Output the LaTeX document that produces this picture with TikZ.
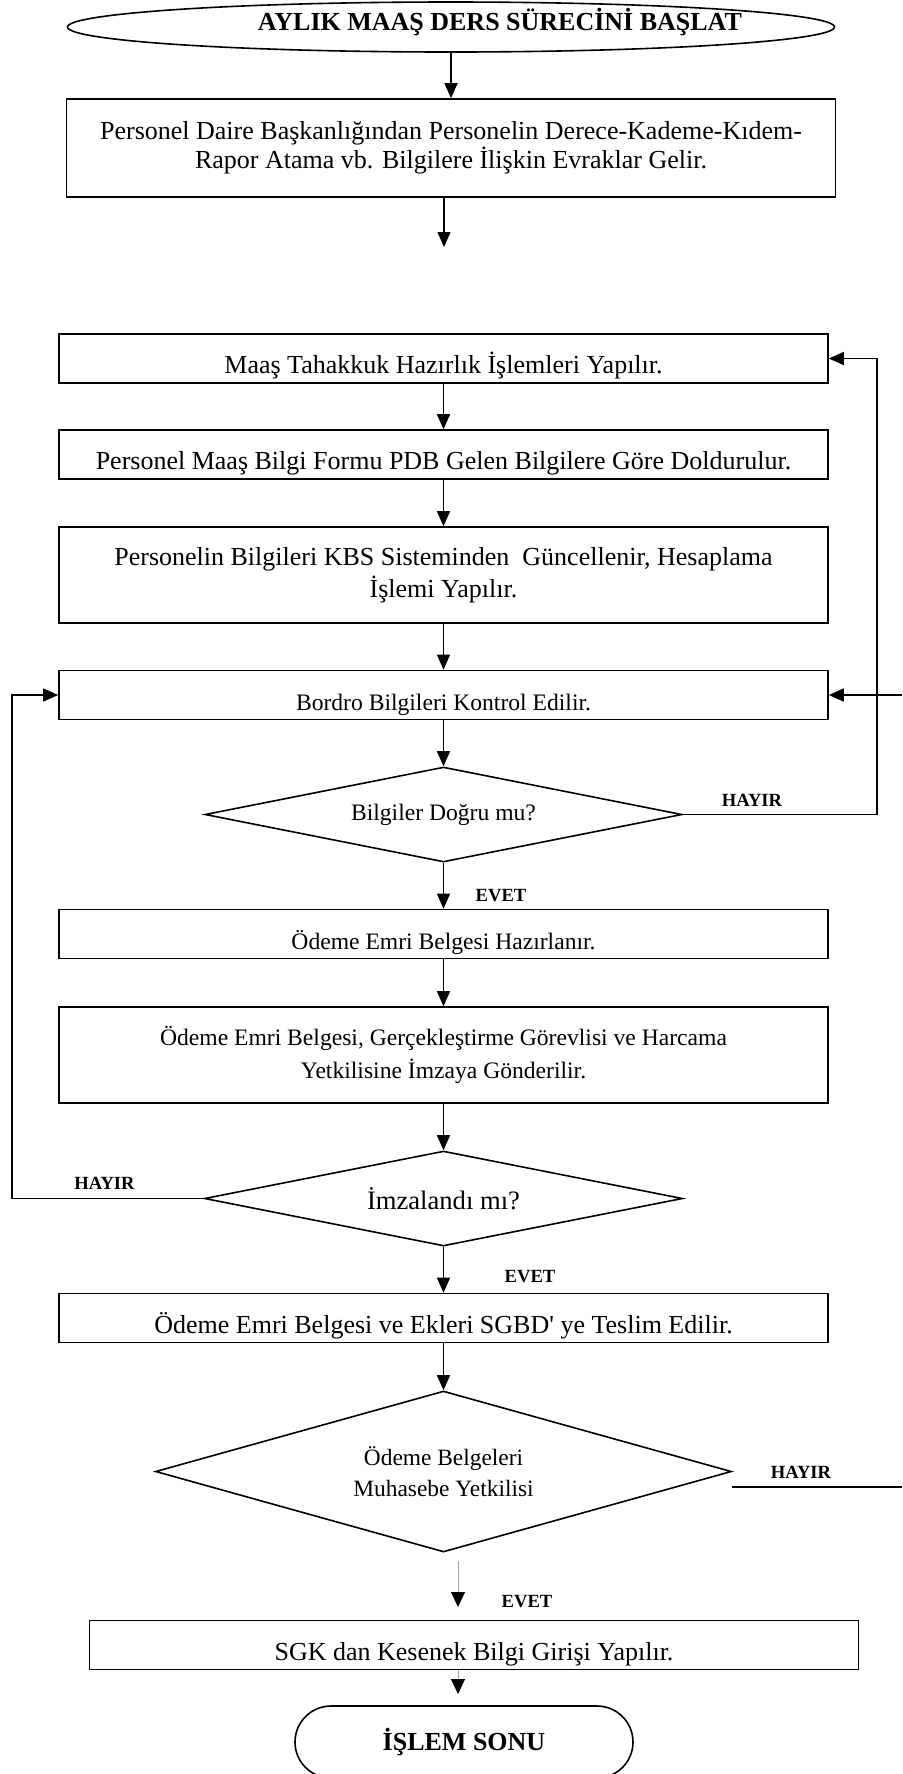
\documentclass[tikz,border=0pt]{standalone}
\usepackage{fontspec}
\setmainfont{Liberation Serif}
\usetikzlibrary{arrows.meta,positioning,calc,shapes.geometric,shapes.misc}

\newcommand{\bigfont}{\fontsize{13}{16}\selectfont}
\newcommand{\midfont}{\fontsize{11.8}{16.5}\selectfont}
\newcommand{\lblfont}{\bfseries\fontsize{9.3}{11}\selectfont}

\tikzset{
  procbox/.style={draw, line width=0.8pt, rectangle, minimum width=384.5pt,
    minimum height=24.5pt, inner sep=0pt, align=center, font=\bigfont},
  onebox/.style={text height=15pt, text depth=0pt},
  decision/.style={draw, line width=0.8pt, shape=diamond, aspect=5,
    inner sep=0pt, align=center},
  startshape/.style={draw, line width=0.8pt, shape=ellipse, inner sep=0pt},
  endshape/.style={draw, line width=0.8pt, shape=rounded rectangle,
    minimum width=169pt, minimum height=36pt, inner sep=0pt,
    font=\bfseries\fontsize{13}{15}\selectfont},
  lbl/.style={font=\lblfont, inner sep=0pt},
  arr/.style={line width=0.7pt, -{Triangle[length=7.5pt,width=6.5pt]}},
  grayarr/.style={draw=gray!70, line width=0.5pt,
    -{Triangle[length=7.5pt,width=7pt,color=black]}},
}

\begin{document}
\begin{tikzpicture}[x=0.5pt,y=-0.5pt]
\useasboundingbox (0,0) rectangle (902,1774);

\node[startshape, minimum width=383.5pt, minimum height=25pt] (start) at (451,27) {};
\node[font=\bfseries\fontsize{13}{15}\selectfont] (starttxt) at (500,22) {AYLIK MAAŞ DERS SÜRECİNİ BAŞLAT};

\node[procbox, minimum height=49pt, font=\fontsize{13}{13.5}\selectfont] (pdb) at (451,148)
  {Personel Daire Başkanlığından Personelin Derece-Kademe-Kıdem-\\Rapor Atama vb. Bilgilere İlişkin Evraklar Gelir.};
\coordinate (pdbend) at (444,247);

\node[procbox, onebox] (hazirlik) at (443.5,358.5) {Maaş Tahakkuk Hazırlık İşlemleri Yapılır.};
\node[procbox, onebox] (form) at (443.5,454.5) {Personel Maaş Bilgi Formu PDB Gelen Bilgilere Göre Doldurulur.};
\node[procbox, minimum height=48pt] (kbs) at (443.5,575)
  {Personelin Bilgileri KBS Sisteminden\ \ Güncellenir, Hesaplama\\İşlemi Yapılır.};
\node[procbox, onebox, font=\midfont] (bordro) at (443.5,695) {Bordro Bilgileri Kontrol Edilir.};

\node[decision, minimum width=238.5pt, minimum height=47.5pt, font=\midfont] (dogru) at (443.5,814.5) {Bilgiler Doğru mu?};

\node[procbox, onebox, font=\midfont] (odeme) at (443.5,934) {Ödeme Emri Belgesi Hazırlanır.};
\node[procbox, minimum height=48pt, font=\midfont] (imza) at (443.5,1055)
  {Ödeme Emri Belgesi, Gerçekleştirme Görevlisi ve Harcama\\Yetkilisine İmzaya Gönderilir.};

\node[decision, minimum width=239pt, minimum height=47.5pt, font=\fontsize{13.3}{16}\selectfont] (imzalandi) at (443.5,1198.5) {İmzalandı mı?};

\node[procbox, onebox] (teslim) at (443.5,1318) {Ödeme Emri Belgesi ve Ekleri SGBD\textquotesingle{} ye Teslim Edilir.};

\node[decision, minimum width=288pt, minimum height=80.5pt, font=\fontsize{11.7}{15.5}\selectfont] (muhasebe) at (443.5,1471.5)
  {Ödeme Belgeleri\\Muhasebe Yetkilisi};

\node[procbox, onebox] (sgk) at (474,1645) {SGK dan Kesenek Bilgi Girişi Yapılır.};
\node[endshape] (son) at (464,1742) {İŞLEM SONU};

% main flow
\draw[arr] (start.south) -- (pdb.north);
\draw[arr] (pdb.south -| pdbend) -- (pdbend);
\draw[arr] (hazirlik) -- (form);
\draw[arr] (form) -- (kbs);
\draw[arr] (kbs) -- (bordro);
\draw[arr] (bordro) -- (dogru);
\draw[arr] (dogru) -- (odeme);
\draw[arr] (odeme) -- (imza);
\draw[arr] (imza) -- (imzalandi);
\draw[arr] (imzalandi) -- (teslim);
\draw[arr] (teslim) -- (muhasebe);

\coordinate (g1a) at (458,1561);
\coordinate (g1b) at (458,1607);
\coordinate (g2b) at (458,1694);
\draw[grayarr] (g1a) -- (g1b);
\draw[grayarr] (sgk.south -| g2b) -- (g2b);

% loops
\coordinate (rloop) at (877,814.5);
\draw[arr] (dogru.east) -- (rloop) |- (hazirlik.east);
\coordinate (redge) at (902,695);
\draw[arr] (redge) -- (bordro.east);
\coordinate (lloop) at (12,1198.5);
\draw[arr] (imzalandi.west) -- (lloop) |- (bordro.west);
\coordinate (medge) at (902,1487);
\draw[line width=1pt] (muhasebe.east |- medge) -- (medge);

% labels
\node[lbl] (h1) at (752,800) {HAYIR};
\node[lbl] (e1) at (501,896) {EVET};
\node[lbl] (h2) at (104.5,1183) {HAYIR};
\node[lbl] (e2) at (530,1277) {EVET};
\node[lbl] (h3) at (801,1472) {HAYIR};
\node[lbl] (e3) at (527,1602) {EVET};
\end{tikzpicture}
\end{document}
